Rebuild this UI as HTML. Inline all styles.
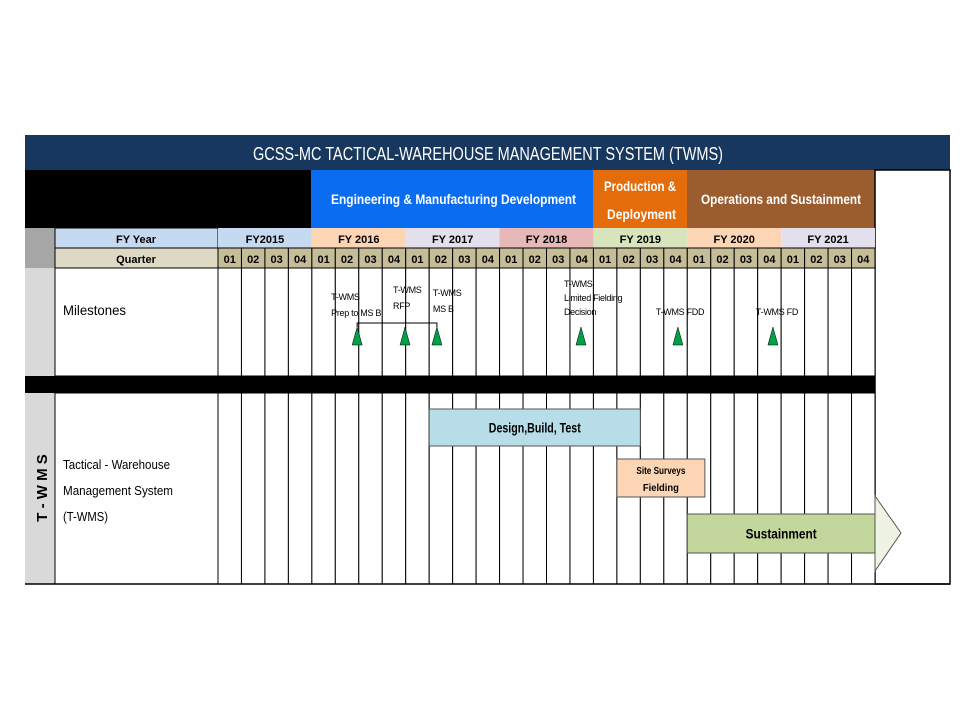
<!DOCTYPE html>
<html><head><meta charset="utf-8"><style>
html,body{margin:0;padding:0;background:#fff;width:960px;height:720px;overflow:hidden}
svg{display:block}
text{font-family:"Liberation Sans Narrow","Liberation Sans",sans-serif}
</style></head><body>
<svg id="chart" width="960" height="720" xmlns="http://www.w3.org/2000/svg">
<rect x="25" y="135" width="925" height="35" fill="#17375e"/>
<text x="253" y="160" font-size="18" fill="#fff" textLength="470" lengthAdjust="spacingAndGlyphs">GCSS-MC TACTICAL-WAREHOUSE MANAGEMENT SYSTEM (TWMS)</text>
<rect x="25" y="170" width="286" height="58" fill="#000"/>
<rect x="311" y="170" width="282" height="58" fill="#0a6cf0"/>
<text x="331" y="204" font-size="14" font-weight="bold" fill="#fff" textLength="245" lengthAdjust="spacingAndGlyphs">Engineering &amp; Manufacturing Development</text>
<rect x="593" y="170" width="94" height="58" fill="#e46c0a"/>
<text x="604" y="191" font-size="14" font-weight="bold" fill="#fff" textLength="72" lengthAdjust="spacingAndGlyphs">Production &amp;</text>
<text x="607" y="219" font-size="14" font-weight="bold" fill="#fff" textLength="69" lengthAdjust="spacingAndGlyphs">Deployment</text>
<rect x="687" y="170" width="188" height="58" fill="#9c5d2e"/>
<text x="701" y="204" font-size="14" font-weight="bold" fill="#fff" textLength="160" lengthAdjust="spacingAndGlyphs">Operations and Sustainment</text>
<rect x="875" y="170" width="75" height="414" fill="#fff" stroke="#000" stroke-width="1.5"/>
<rect x="25" y="228" width="30" height="40" fill="#a6a6a6"/>
<rect x="55" y="228" width="163" height="20" fill="#c5d9f1" stroke="#000"/>
<text x="136" y="243" font-size="11" font-weight="bold" text-anchor="middle">FY Year</text>
<rect x="55" y="248" width="163" height="20" fill="#ddd9c4" stroke="#000"/>
<text x="136" y="263" font-size="11" font-weight="bold" text-anchor="middle">Quarter</text>
<rect x="25" y="268" width="30" height="108" fill="#d9d9d9"/>
<rect x="55" y="268" width="163" height="108" fill="#fff" stroke="#000"/>
<text x="63" y="315" font-size="14" textLength="63" lengthAdjust="spacingAndGlyphs">Milestones</text>
<rect x="25" y="376" width="850" height="17" fill="#000"/>
<rect x="25" y="393" width="30" height="191" fill="#d9d9d9"/>
<text transform="translate(47,488) rotate(-90)" font-size="15" font-weight="bold" text-anchor="middle">T - W M S</text>
<rect x="55" y="393" width="163" height="191" fill="#fff" stroke="#000"/>
<text x="63" y="469" font-size="13" textLength="107" lengthAdjust="spacingAndGlyphs">Tactical - Warehouse</text>
<text x="63" y="495" font-size="13" textLength="110" lengthAdjust="spacingAndGlyphs">Management System</text>
<text x="63" y="521" font-size="13" textLength="45" lengthAdjust="spacingAndGlyphs">(T-WMS)</text>
<g id="grid"></g><g id="marks"></g>
<line x1="25" y1="584" x2="950" y2="584" stroke="#000" stroke-width="1.5"/>
</svg>
<script>
const years=["FY2015","FY 2016","FY 2017","FY 2018","FY 2019","FY 2020","FY 2021"];
const yearColors=["#c5d9f1","#fcd5b4","#e4dfec","#e6b8b7","#d8e4bc","#fcd5b4","#e4dfec"];
const quarterLabels=["01","02","03","04"];
const milestoneLabels=[["T-WMS","Prep to MS B"],["T-WMS","RFP"],["T-WMS","MS B"],["T-WMS","Limited Fielding","Decision"],["T-WMS  FDD"],["T-WMS  FD"]];
const milestoneQuarters=[5.93,7.97,9.33,15.47,19.6,23.65];
const taskNames=["Design,Build, Test","Site Surveys|Fielding","Sustainment"];
const taskStarts=[9,17,20];
const taskEnds=[18,20.75,28];
// label layout (styling, not data)
const labelDx=[-26,-12,-4,-17,-22,-17];
const labelY0=[300,293,296,287,315,315];
const NS="http://www.w3.org/2000/svg";
const X0=218,X1=875,NQ=28;
const qx=q=>X0+q*(X1-X0)/NQ;
function mk(t,a,p){const e=document.createElementNS(NS,t);for(const k in a)e.setAttribute(k,a[k]);p.appendChild(e);return e;}
const grid=document.getElementById('grid'),marks=document.getElementById('marks');
years.forEach((y,i)=>{
 const r=mk('rect',{x:qx(i*4),y:228,width:qx(i*4+4)-qx(i*4),height:20,fill:yearColors[i]},grid);
 
 
 const t=mk('text',{x:(qx(i*4)+qx(i*4+4))/2,y:243,'font-size':11,'font-weight':'bold','text-anchor':'middle'},grid);t.textContent=y;
 
 
});
for(let q=0;q<NQ;q++){
 const r=mk('rect',{x:qx(q),y:248,width:qx(q+1)-qx(q),height:20,fill:'#c4bd97',stroke:'#000'},grid);
 
 
 const t=mk('text',{x:(qx(q)+qx(q+1))/2,y:263,'font-size':11,'font-weight':'bold','text-anchor':'middle'},grid);t.textContent=quarterLabels[q%4];
 
 
 [[268,376],[393,584]].forEach(([a,b])=>{
  const c=mk('rect',{x:qx(q),y:a,width:qx(q+1)-qx(q),height:b-a,fill:'#fff',stroke:'#000'},grid);
  
  
 });
}
const l=mk('polyline',{points:`${qx(milestoneQuarters[0])},327 ${qx(milestoneQuarters[0])},323 ${qx(milestoneQuarters[2])},323 ${qx(milestoneQuarters[2])},327`,fill:'none',stroke:'#000'},marks);


milestoneQuarters.forEach((m,i)=>{
 const x=qx(m);
 const tr=mk('polygon',{points:`${x},327 ${x-5},345 ${x+5},345`,fill:'#00a04a',stroke:'#000','stroke-width':0.5},marks);
 
 
 const lines=milestoneLabels[i];
 lines.forEach((s,j)=>{
  const t=mk('text',{x:x+labelDx[i],y:labelY0[i]+j*(lines.length===3?14:16),'font-size':9,'letter-spacing':'-0.3'},marks);t.textContent=s;
  
  
 });
});
const fills=['#b7dde8','#fcd5b4','#c3d69b'];
const ys=[[409,446],[459,497],[514,553]];
const tl=[[92],[49,36],[71]];
taskNames.forEach((n,i)=>{
 const x0=qx(taskStarts[i]),x1=qx(taskEnds[i]),[a,b]=ys[i];
 const r=mk('rect',{x:x0,y:a,width:x1-x0,height:b-a,fill:fills[i],stroke:'#555'},marks);
 
 
 if(i===2){
  const p=mk('polygon',{points:`${x1},496 ${x1+26},533 ${x1},571`,fill:'#eef3e3',stroke:'#555'},marks);
  
  
 }
 const parts=n.split('|');
 parts.forEach((s,j)=>{
  const t=mk('text',{x:(x0+x1)/2,y:parts.length>1?a+15+j*17:(a+b)/2+5,'font-size':parts.length>1?10:14,'font-weight':'bold','text-anchor':'middle',textLength:tl[i][j],lengthAdjust:'spacingAndGlyphs'},marks);t.textContent=s;
  
  
 });
});
</script>
</body></html>
